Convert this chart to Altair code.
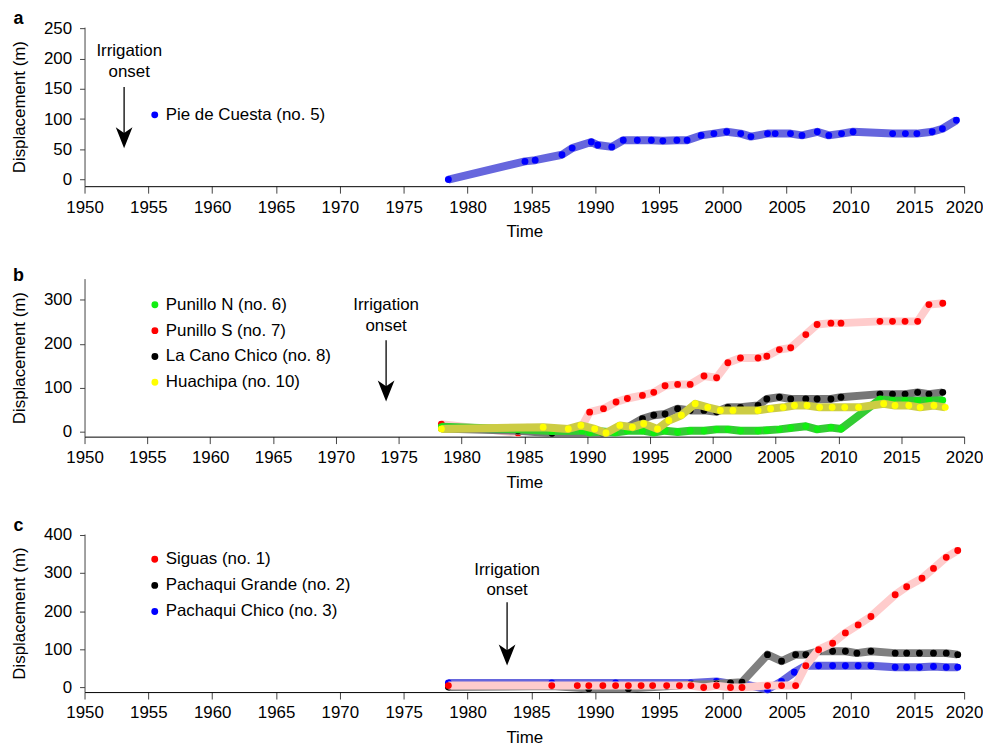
import altair as alt
import pandas as pd

FONT = "Liberation Sans"

# ---------------- Panel a : Pie de Cuesta ----------------
A_YEARS = [1978.5, 1984.5, 1985.3, 1987.4, 1988.2, 1989.7, 1990.2, 1991.3, 1992.2, 1993.3,
           1994.4, 1995.3, 1996.4, 1997.2, 1998.3, 1999.3, 2000.3, 2001.4, 2002.2, 2003.5,
           2004.1, 2005.3, 2006.2, 2007.4, 2008.3, 2009.3, 2010.2, 2013.3, 2014.3, 2015.2,
           2016.4, 2017.2, 2018.3]
A_VALS = [0, 30, 32, 41, 52, 62, 57, 54, 65, 65, 65, 64, 65, 65, 73, 76, 79, 76, 71, 76,
          76, 76, 73, 79, 73, 76, 79, 76, 76, 76, 79, 84, 98]

# ---------------- Panel b ----------------
N_YEARS = [1978.4, 1984.5, 1987.2, 1989.6, 1990.2, 1991.2, 1992.2, 1993.2, 1994.4, 1995.3,
           1996.2, 1997.2, 1998.2, 1999.3, 2000.3, 2001.2, 2002.2, 2003.6, 2004.3, 2005.3,
           2006.2, 2007.4, 2008.3, 2009.4, 2010.2, 2013.3, 2014.3, 2015.3, 2016.3, 2017.2, 2018.3]
N_VALS = [12, 6, 2, 3, -1, 1, -1, 3, 3, -1, 3, 0, 3, 3, 6, 6, 3, 3, 4, 6,
          9, 13, 6, 10, 7, 74, 71, 71, 71, 71, 72]

S_YEARS = [1978.4, 1984.5, 1985.2, 1987.2, 1989.5, 1990.2, 1991.3, 1992.3, 1993.2, 1994.4,
           1995.3, 1996.2, 1997.2, 1998.2, 1999.3, 2000.3, 2001.2, 2002.2, 2003.6, 2004.3,
           2005.3, 2006.2, 2007.4, 2008.3, 2009.4, 2010.2, 2013.3, 2014.3, 2015.3, 2016.3,
           2017.2, 2018.3]
S_VALS = [18, -2, 10, 5, 8, 45, 53, 68, 76, 83, 90, 105, 108, 108, 127, 123, 157, 168, 168, 172,
          187, 191, 221, 244, 247, 247, 251, 251, 251, 251, 289, 292]

C_YEARS = [1978.4, 1984.5, 1987.2, 1991.2, 1992.3, 1993.3, 1994.4, 1995.3, 1996.2, 1997.2,
           1998.2, 1999.3, 2000.3, 2001.2, 2002.2, 2003.6, 2004.3, 2005.3, 2006.2, 2007.4,
           2008.3, 2009.4, 2010.2, 2013.3, 2014.3, 2015.3, 2016.3, 2017.2, 2018.3]
C_VALS = [8, 3, -3, -2, 2, 12, 30, 38, 41, 53, 49, 49, 46, 56, 56, 60, 75, 79, 75, 75,
          75, 75, 79, 86, 86, 86, 90, 86, 90]

H_YEARS = [1978.4, 1986.5, 1988.5, 1989.5, 1990.6, 1991.5, 1992.6, 1993.6, 1994.5, 1995.6,
           1996.5, 1997.5, 1998.6, 1999.6, 2000.6, 2001.6, 2003.6, 2004.6, 2005.6, 2006.5,
           2007.5, 2008.5, 2009.5, 2010.5, 2011.6, 2013.6, 2014.5, 2015.6, 2016.5, 2017.6, 2018.5]
H_VALS = [7, 11, 7, 15, 7, -2, 15, 11, 19, 7, 26, 38, 64, 56, 49, 49, 49, 53, 56, 60,
          60, 56, 56, 56, 56, 64, 60, 60, 56, 60, 56]

# ---------------- Panel c ----------------
SIG_YEARS = [1978.5, 1986.6, 1988.6, 1989.5, 1990.6, 1991.6, 1992.6, 1993.6, 1994.5, 1995.6,
             1996.6, 1997.5, 1998.5, 1999.5, 2000.6, 2001.5, 2003.5, 2004.6, 2005.7, 2006.5,
             2007.5, 2008.6, 2009.6, 2010.6, 2011.6, 2013.5, 2014.4, 2015.6, 2016.5, 2017.5, 2018.4]
SIG_VALS = [5, 5, 5, 5, 5, 5, 5, 5, 5, 5, 5, 5, 0, 5, 0, 0, 5, 5, 5, 57,
            99, 116, 143, 164, 186, 243, 264, 286, 312, 341, 359]

PG_YEARS = [1978.5, 1986.6, 1989.5, 1992.6, 1995.6, 1997.5, 1999.5, 2000.6, 2001.5, 2003.5,
            2004.6, 2005.7, 2006.5, 2007.5, 2008.6, 2009.6, 2010.5, 2011.6, 2013.5, 2014.4,
            2015.4, 2016.5, 2017.5, 2018.4]
PG_VALS = [1, 4, -3, -3, 3, 7, 9, 12, 14, 86, 69, 86, 86, 95, 95, 95, 90, 95, 90, 90,
           90, 90, 90, 86]

PC_YEARS = [1978.5, 1986.6, 1991.6, 1997.5, 1999.5, 2000.6, 2001.5, 2003.5, 2004.6, 2005.6,
            2006.5, 2007.5, 2008.6, 2009.6, 2010.6, 2011.6, 2013.5, 2014.4, 2015.4, 2016.5,
            2017.5, 2018.4]
PC_VALS = [12, 12, 12, 12, 16, 10, 10, -5, 16, 40, 57, 57, 57, 57, 57, 57, 53, 53, 53, 55,
           53, 53]

# Irrigation-onset annotations (data units): arrow year, text year, first text line,
# shaft top, arrow-head centre
ONSET_A = {"year": 1953.1, "text_year": 1953.5, "text": 212, "top": 153, "head": 69}
ONSET_B = {"year": 1974.0, "text_year": 1974.0, "text": 287, "top": 208, "head": 93}
ONSET_C = {"year": 1983.1, "text_year": 1983.1, "text": 309, "top": 223, "head": 85}

# Legend placement (data units): x year, first row value, row step
LEG_A = (1955.5, 107, 0)
LEG_B = (1955.6, 288.6, 58.6)
LEG_C = (1955.5, 336, 68.5)

ARROW_PATH = "M0,1 L-0.8,-1 L0,-0.45 L0.8,-1 Z"


def frame(series):
    rows = []
    for name, (ys, vs) in series.items():
        for y, v in zip(ys, vs):
            rows.append({"series": name, "year": y, "disp": v})
    return pd.DataFrame(rows)


def panel(series, draw_order, dot_colors, band_colors, ydomain, yticks, xdomain, xticks,
          label, label_y, onset, leg, height):
    names = list(series.keys())
    df = frame(series)
    label_expr = "datum.value > 2017 ? '2020' : format(datum.value, 'd')"
    x_enc = alt.X("year:Q",
                  scale=alt.Scale(domain=xdomain, nice=False, zero=False),
                  axis=alt.Axis(values=xticks, labelExpr=label_expr, title="Time",
                                labelFlush=False, labelOverlap=False))
    y_enc = alt.Y("disp:Q",
                  scale=alt.Scale(domain=ydomain, nice=False, zero=False),
                  axis=alt.Axis(values=yticks, title="Displacement (m)", labelFlush=False,
                                labelOverlap=False, format="d"))
    fill_scale = alt.Scale(domain=names, range=dot_colors)
    layers = []
    for name in draw_order:
        sub = alt.Chart(df).transform_filter(alt.datum.series == name)
        layers.append(sub.mark_line(strokeWidth=8, strokeJoin="round").encode(
            x=x_enc, y=y_enc,
            stroke=alt.Stroke("series:N", scale=alt.Scale(domain=names, range=band_colors),
                              legend=None)))
        layers.append(sub.mark_circle(size=48, opacity=1).encode(
            x=x_enc, y=y_enc,
            fill=alt.Fill("series:N", scale=fill_scale, legend=None)))

    # manual legend
    leg_df = pd.DataFrame([{"series": n, "year": leg[0], "disp": leg[1] - i * leg[2]}
                           for i, n in enumerate(names)])
    layers.append(alt.Chart(leg_df).mark_circle(size=48, opacity=1).encode(
        x=x_enc, y=y_enc, fill=alt.Fill("series:N", scale=fill_scale, legend=None)))
    layers.append(alt.Chart(leg_df).mark_text(align="left", baseline="middle", dx=11,
                                              fontSize=17, font=FONT, color="black").encode(
        x=x_enc, y=y_enc, text="series:N"))

    ann = pd.DataFrame([{"year": onset["year"], "disp": onset["top"], "disp2": onset["head"]}])
    head = pd.DataFrame([{"year": onset["year"], "disp": onset["head"]}])
    txt = pd.DataFrame([{"year": onset["text_year"], "disp": onset["text"]}])
    layers.append(alt.Chart(ann).mark_rule(color="black", strokeWidth=1.3).encode(
        x=x_enc, y=y_enc, y2=alt.Y2("disp2:Q")))
    layers.append(alt.Chart(head).mark_point(shape=ARROW_PATH, filled=True, size=441,
                                             color="black", opacity=1, strokeWidth=0).encode(
        x=x_enc, y=y_enc))
    layers.append(alt.Chart(txt).mark_text(text=["Irrigation", "onset"], lineHeight=21,
                                           fontSize=17, font=FONT, color="black",
                                           align="center", baseline="middle").encode(
        x=x_enc, y=y_enc))
    lab = pd.DataFrame([{"lab": label}])
    layers.append(alt.Chart(lab).mark_text(text=label, fontSize=18, fontWeight="bold",
                                           font=FONT, color="black", align="center",
                                           baseline="middle").encode(
        x=alt.value(-66.5), y=alt.value(label_y)))
    return alt.layer(*layers).properties(width=885, height=height)


XT_AC = [1950, 1955, 1960, 1965, 1970, 1975, 1980, 1985, 1990, 1995, 2000, 2005, 2010, 2015, 2018.9]
XT_B = [1950, 1955, 1960, 1965, 1970, 1975, 1980, 1985, 1990, 1995, 2000, 2005, 2010, 2015, 2020]

pa = panel({"Pie de Cuesta (no. 5)": (A_YEARS, A_VALS)},
           ["Pie de Cuesta (no. 5)"], ["#0000ff"], ["#6666dd"],
           [-11, 252], [0, 50, 100, 150, 200, 250], [1950, 2018.9], XT_AC,
           "a", -8, ONSET_A, LEG_A, 160)

pb = panel({"Punillo N (no. 6)": (N_YEARS, N_VALS),
            "Punillo S (no. 7)": (S_YEARS, S_VALS),
            "La Cano Chico (no. 8)": (C_YEARS, C_VALS),
            "Huachipa (no. 10)": (H_YEARS, H_VALS)},
           ["Punillo S (no. 7)", "La Cano Chico (no. 8)", "Punillo N (no. 6)", "Huachipa (no. 10)"],
           ["#11ee11", "#ff0000", "#000000", "#ffff00"],
           ["#33cc33", "#ffcccc", "#777777", "#cccc44"],
           [-10.5, 348], [0, 100, 200, 300], [1950, 2020], XT_B,
           "b", -3, ONSET_B, LEG_B, 159)

pc = panel({"Siguas (no. 1)": (SIG_YEARS, SIG_VALS),
            "Pachaqui Grande (no. 2)": (PG_YEARS, PG_VALS),
            "Pachaqui Chico (no. 3)": (PC_YEARS, PC_VALS)},
           ["Pachaqui Chico (no. 3)", "Pachaqui Grande (no. 2)", "Siguas (no. 1)"],
           ["#ff0000", "#000000", "#0000ff"],
           ["#ffcccc", "#808080", "#6666dd"],
           [-12, 402], [0, 100, 200, 300, 400], [1950, 2018.9], XT_AC,
           "c", -8, ONSET_C, LEG_C, 159)

chart = (
    alt.vconcat(pa, pb, pc, spacing=27)
    .resolve_scale(x="independent", y="independent", fill="independent", stroke="independent")
    .properties(padding={"left": 2, "top": 0, "right": 0, "bottom": 0})
    .configure(font=FONT)
    .configure_view(stroke=None)
    .configure_axis(labelFont=FONT, titleFont=FONT, labelFontSize=17, titleFontSize=17,
                    titleFontWeight="normal", labelColor="black", titleColor="black",
                    grid=False, domainColor="black", tickColor="#444", domainWidth=1, tickWidth=1)
    .configure_axisX(tickSize=7, labelPadding=6, titlePadding=9)
    .configure_axisY(tickSize=5, labelPadding=8, titlePadding=15, domainColor="#444")
)

chart.save("out.html", embed_options={"renderer": "svg", "actions": False})
